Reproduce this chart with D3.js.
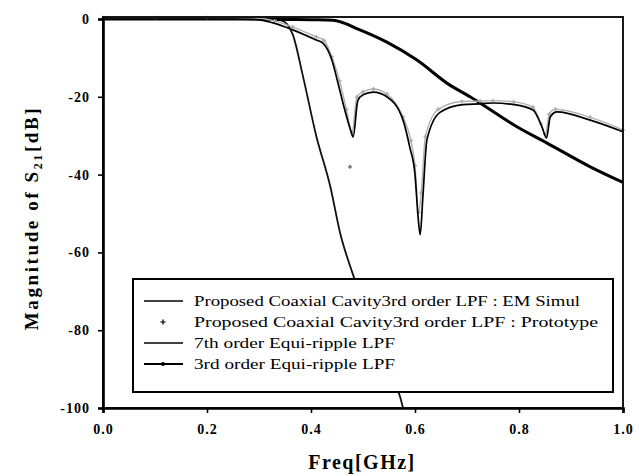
<!DOCTYPE html>
<html>
<head>
<meta charset="utf-8">
<script src="https://cdn.jsdelivr.net/npm/d3@7"></script>
<style>
  body { margin: 0; background: #fff; }
  svg { display: block; }
</style>
</head>
<body>
<div id="chart"></div>
<script>
var svgWidth = 643;
var svgHeight = 476;

// EM simulation of the proposed coaxial cavity LPF
var simFreq = [0, 0.05, 0.1, 0.15, 0.2, 0.25, 0.3, 0.327, 0.365, 0.41, 0.423, 0.44, 0.452, 0.465, 0.476, 0.481, 0.49, 0.50, 0.52, 0.546, 0.577, 0.59, 0.60, 0.606, 0.61, 0.615, 0.623, 0.648, 0.692, 0.725, 0.75, 0.79, 0.827, 0.844, 0.853, 0.86, 0.873, 0.937, 1.0];
var simMag = [0, 0, 0, 0, 0, 0, -0.2, -1, -2.8, -5.4, -6.2, -10.5, -16.5, -23.4, -28.5, -30.3, -21, -19.5, -18.8, -20, -26, -33, -40, -51, -55.5, -46, -31, -24, -22, -21.8, -21.6, -22, -23.4, -27.7, -30.6, -25.2, -23.9, -26, -29];

// measured prototype
var measFreq = [0, 0.1, 0.2, 0.3, 0.33, 0.365, 0.41, 0.425, 0.44, 0.455, 0.468, 0.479, 0.488, 0.50, 0.52, 0.546, 0.577, 0.592, 0.60, 0.607, 0.612, 0.62, 0.645, 0.69, 0.725, 0.75, 0.79, 0.827, 0.842, 0.851, 0.858, 0.87, 0.937, 1.0];
var measMag = [0, 0, 0, -0.1, -0.8, -2.4, -4.9, -5.8, -10, -16.2, -23.5, -29.5, -20.4, -19, -18.3, -19.6, -25.5, -31.5, -38, -50, -45, -30.5, -23.5, -21.5, -21.4, -21.3, -21.6, -23, -27.2, -30, -24.8, -23.5, -25.6, -28.8];
var measOutFreq = [0.475];
var measOutMag = [-38];

// 7th order equi-ripple LPF
var ord7Freq = [0, 0.1, 0.2, 0.3, 0.34, 0.355, 0.365, 0.385, 0.41, 0.437, 0.456, 0.48, 0.50, 0.53, 0.55, 0.571, 0.577];
var ord7Mag = [0, 0, 0, 0, -0.3, -1.5, -4, -15, -30, -43, -55, -65.4, -73, -84, -90, -97, -100];

// 3rd order equi-ripple LPF
var ord3Freq = [0, 0.1, 0.2, 0.3, 0.35, 0.40, 0.442, 0.494, 0.545, 0.603, 0.667, 0.706, 0.725, 0.796, 0.854, 0.937, 1.0];
var ord3Mag = [0, 0, 0, 0, -0.1, -0.2, -0.3, -2.8, -5.9, -10.5, -17, -20, -21.6, -27.7, -31.9, -38, -42];

var xTicks = [0, 0.2, 0.4, 0.6, 0.8, 1.0];
var yTicks = [0, -20, -40, -60, -80, -100];

var legendLabels = [
  "Proposed Coaxial Cavity3rd order LPF : EM Simul",
  "Proposed Coaxial Cavity3rd order LPF : Prototype",
  "7th order Equi-ripple LPF",
  "3rd order Equi-ripple LPF"
];

var plot = { left: 103, right: 623, top: 19, bottom: 408 };

var svg = d3.select("#chart")
  .append("svg")
  .attr("width", svgWidth)
  .attr("height", svgHeight);

var xScale = d3.scaleLinear().domain([0, 1]).range([plot.left, plot.right]);
var yScale = d3.scaleLinear().domain([-100, 0]).range([plot.bottom, plot.top]);

function pairs(fs, ms) {
  return fs.map((f, i) => [f, ms[i]]);
}

var line = d3.line()
  .x(d => xScale(d[0]))
  .y(d => yScale(d[1]))
  .curve(d3.curveMonotoneX);

var curves = svg.append("g");

// 7th order
curves.append("path")
  .datum(pairs(ord7Freq, ord7Mag))
  .attr("d", line)
  .attr("fill", "none")
  .attr("stroke", "#111")
  .attr("stroke-width", 1.8);

// 3rd order
var ord3 = pairs(ord3Freq, ord3Mag);
curves.append("path")
  .datum(ord3)
  .attr("d", line)
  .attr("fill", "none")
  .attr("stroke", "#000")
  .attr("stroke-width", 3);

// measured (grey band hugging the simulation)
var meas = pairs(measFreq, measMag);
curves.append("path")
  .datum(meas)
  .attr("d", line)
  .attr("fill", "none")
  .attr("stroke", "#b0b0b0")
  .attr("stroke-width", 1.4)
  .attr("transform", "translate(0,-1.2)");

var cross = d3.symbol().type(d3.symbolCross).size(9);
curves.selectAll(".meas")
  .data(meas.concat(pairs(measOutFreq, measOutMag)))
  .enter()
  .append("path")
  .attr("class", "meas")
  .attr("d", cross)
  .attr("transform", (d, i) => `translate(${xScale(d[0])},${yScale(d[1]) - (i < meas.length ? 1.2 : 0)})`)
  .attr("fill", (d, i) => i < meas.length ? "#aaa" : "#666");

// EM simulation
curves.append("path")
  .datum(pairs(simFreq, simMag))
  .attr("d", line)
  .attr("fill", "none")
  .attr("stroke", "#000")
  .attr("stroke-width", 1.7);

// frame
svg.append("rect")
  .attr("x", plot.left)
  .attr("y", plot.top - 2)
  .attr("width", plot.right - plot.left)
  .attr("height", plot.bottom - plot.top + 2)
  .attr("fill", "none")
  .attr("stroke", "#000")
  .attr("stroke-width", 1.8);

var bottomAxis = d3.axisBottom(xScale)
  .tickValues(xTicks)
  .tickSize(5)
  .tickFormat(d3.format(".1f"));

var leftAxis = d3.axisLeft(yScale)
  .tickValues(yTicks)
  .tickSize(5)
  .tickFormat(d => d);

var x_axis = svg.append("g")
  .attr("transform", `translate(0, ${plot.bottom})`)
  .call(bottomAxis);

var y_axis = svg.append("g")
  .attr("transform", `translate(${plot.left}, 0)`)
  .call(leftAxis);

[x_axis, y_axis].forEach(ax => {
  ax.select(".domain").attr("stroke-width", 2.6);
  ax.selectAll(".tick line").attr("stroke-width", 1.6);
  ax.selectAll(".tick text")
    .style("font", "bold 14px 'Liberation Serif'")
    .style("letter-spacing", "1px")
    .attr("fill", "#000");
});
x_axis.selectAll(".tick text").attr("dy", "1.3em");
y_axis.selectAll(".tick text").attr("x", -13);

// axis titles
svg.append("text")
  .attr("x", 362)
  .attr("y", 469)
  .attr("text-anchor", "middle")
  .style("font", "bold 20px 'Liberation Serif'")
  .style("letter-spacing", "1.5px")
  .text("Freq[GHz]");

var yLabel = svg.append("text")
  .attr("transform", "translate(38, 218) rotate(-90)")
  .attr("text-anchor", "middle")
  .style("font", "bold 19px 'Liberation Serif'")
  .style("letter-spacing", "2.6px");
yLabel.append("tspan").text("Magnitude of S");
yLabel.append("tspan").attr("dy", 4).style("font-size", "12px").text("21");
yLabel.append("tspan").attr("dy", -4).text("[dB]");

// legend
var legend = svg.append("g");
legend.append("rect")
  .attr("x", 133)
  .attr("y", 279)
  .attr("width", 480)
  .attr("height", 113)
  .attr("fill", "#fff")
  .attr("stroke", "#000")
  .attr("stroke-width", 2);

var legendWidths = [386, 404, 201, 201];
legendLabels.forEach((lab, i) => {
  var y = 301 + i * 21;
  if (i !== 1) {
    legend.append("line")
      .attr("x1", 144).attr("x2", 183)
      .attr("y1", y).attr("y2", y)
      .attr("stroke", "#000")
      .attr("stroke-width", i === 3 ? 2 : 1.5);
  }
  if (i === 1) {
    legend.append("path")
      .attr("d", d3.symbol().type(d3.symbolCross).size(14))
      .attr("transform", `translate(163,${y})`)
      .attr("fill", "#333");
  }
  if (i === 3) {
    legend.append("circle")
      .attr("cx", 163).attr("cy", y).attr("r", 2)
      .attr("fill", "#000");
  }
  legend.append("text")
    .attr("x", 194)
    .attr("y", y + 5)
    .attr("textLength", legendWidths[i])
    .attr("lengthAdjust", "spacingAndGlyphs")
    .style("font", "14px 'Liberation Serif'")
    .text(lab);
});
</script>
</body>
</html>
